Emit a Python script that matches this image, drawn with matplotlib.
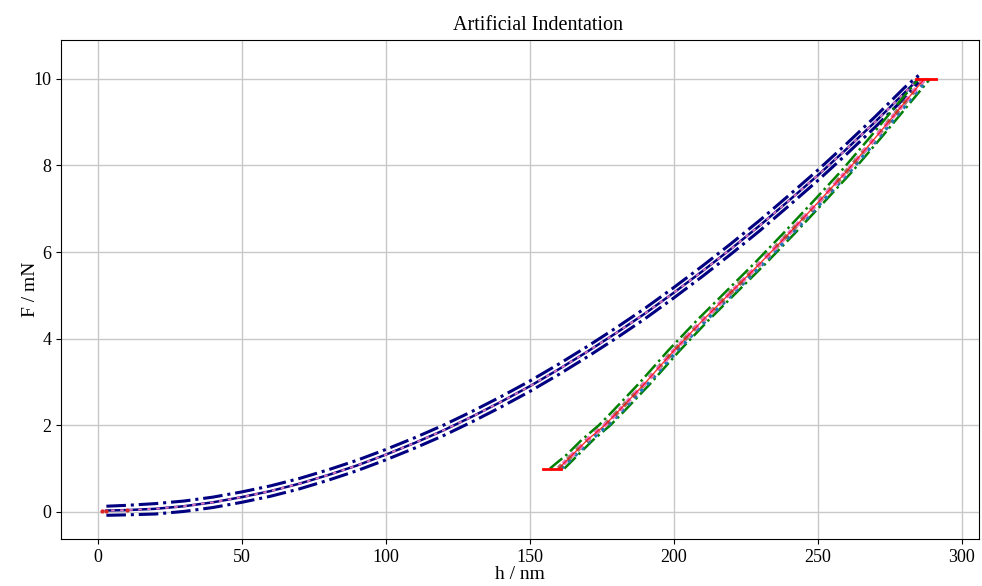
import matplotlib.pyplot as plt

plt.rcParams['font.family'] = ['Liberation Serif', 'DejaVu Serif']

# Loading branch (h in nm, F in mN)
load_h = [3, 10, 20, 30, 40, 50, 60, 70, 80, 90, 100, 110, 120, 130, 140, 150,
          160, 170, 180, 190, 200, 210, 220, 230, 240, 250, 260, 270, 280, 285]
load_F = [0.03, 0.04, 0.07, 0.13, 0.22, 0.34, 0.48, 0.65, 0.85, 1.07, 1.32, 1.59,
          1.88, 2.20, 2.54, 2.90, 3.29, 3.70, 4.13, 4.58, 5.06, 5.56, 6.08, 6.62,
          7.19, 7.77, 8.38, 9.01, 9.67, 10.0]
load_upper = [0.13, 0.15, 0.19, 0.25, 0.34, 0.46, 0.60, 0.77, 0.97, 1.19, 1.44, 1.71,
              2.00, 2.32, 2.66, 3.02, 3.41, 3.82, 4.25, 4.70, 5.18, 5.68, 6.20, 6.74,
              7.31, 7.89, 8.50, 9.13, 9.79, 10.08]
load_lower = [-0.08, -0.07, -0.05, 0.01, 0.10, 0.22, 0.36, 0.53, 0.73, 0.95, 1.20, 1.47,
              1.76, 2.08, 2.42, 2.78, 3.17, 3.58, 4.01, 4.46, 4.94, 5.44, 5.96, 6.50,
              7.07, 7.65, 8.26, 8.89, 9.55, 9.92]
load_pts_h = [1.5, 3, 10, 20, 30, 40, 50, 60, 70, 80, 90, 100, 110, 120, 130, 140, 150,
              160, 170, 180, 190, 200, 210, 220, 230, 240, 250, 260, 270, 280, 285]
load_pts_F = [0.03, 0.03, 0.04, 0.07, 0.13, 0.22, 0.34, 0.48, 0.65, 0.85, 1.07, 1.32,
              1.59, 1.88, 2.20, 2.54, 2.90, 3.29, 3.70, 4.13, 4.58, 5.06, 5.56, 6.08,
              6.62, 7.19, 7.77, 8.38, 9.01, 9.67, 10.0]

# Unloading branch
unload_h = [160, 165, 170, 176, 180, 190, 200, 210, 220, 230, 240, 250, 260, 270, 280, 287]
unload_F = [1.0, 1.33, 1.66, 2.0, 2.27, 2.97, 3.72, 4.42, 5.08, 5.74, 6.43, 7.14,
            7.86, 8.64, 9.44, 10.0]
unload_h_upper = [157, 163, 168, 174, 178, 188, 198, 208, 218, 228, 238, 248, 258, 268, 278, 285]
unload_h_lower = [162, 167, 172, 178, 182, 192, 202, 212, 222, 232, 242, 252, 262, 272, 282, 289]
unload_h_shift = [161, 166.2, 171.2, 177.2, 181.2, 191.2, 201.2, 211.2, 221.2, 231.2, 241.2,
                  251.2, 261.2, 271.2, 281.2, 288.2]

# Hold segments (red)
hold_top_h = [284, 291]
hold_top_F = [10.0, 10.0]
hold_bot_h = [154.5, 161]
hold_bot_F = [1.0, 1.0]

fig, ax = plt.subplots(figsize=(9.82, 5.86), dpi=100)
fig.subplots_adjust(left=0.062, right=0.997, bottom=0.080, top=0.932)

ax.grid(True, color='#c8c8c8', linewidth=1.0)
ax.set_axisbelow(True)

# loading
ax.plot(load_h, load_upper, color='navy', linestyle='-.', linewidth=2.2)
ax.plot(load_h, load_lower, color='navy', linestyle='-.', linewidth=2.2)
ax.plot(load_h, load_F, color='navy', linewidth=1.8)
ax.plot(load_pts_h, load_pts_F, color='tab:pink', linestyle=(0, (2, 3)), linewidth=1.3)
ax.plot(load_pts_h[:3], load_pts_F[:3], '.', color='tab:red', markersize=4)

# unloading
ax.plot(unload_h_upper, unload_F, color='green', linestyle='-.', linewidth=1.8)
ax.plot(unload_h_lower, unload_F, color='green', linestyle='-.', linewidth=1.8)
ax.plot(unload_h_shift, unload_F, color='tab:blue', linestyle=':', linewidth=2.5)
ax.plot(unload_h, unload_F, color='tab:brown', linestyle=':', linewidth=3.5, alpha=0.8)
ax.plot(unload_h, unload_F, color='tab:pink', linestyle=(1, (1, 1.5)), linewidth=3.2)
ax.plot(unload_h, unload_F, color='red', linewidth=1.0, alpha=0.8)

ax.plot(hold_top_h, hold_top_F, color='red', linewidth=2.0)
ax.plot(hold_bot_h, hold_bot_F, color='red', linewidth=2.0)

ax.set_xlim(-12.8, 306)
ax.set_ylim(-0.63, 10.9)
ax.set_xticks([0, 50, 100, 150, 200, 250, 300])
ax.set_yticks([0, 2, 4, 6, 8, 10])
ax.tick_params(labelsize=13)
ax.set_xlabel('h / nm', fontsize=14, labelpad=0)
ax.set_ylabel('F / mN', fontsize=14, labelpad=-4)
ax.set_title('Artificial Indentation', fontsize=14.5, x=0.52, pad=7)

plt.savefig('out.png', dpi=100)
